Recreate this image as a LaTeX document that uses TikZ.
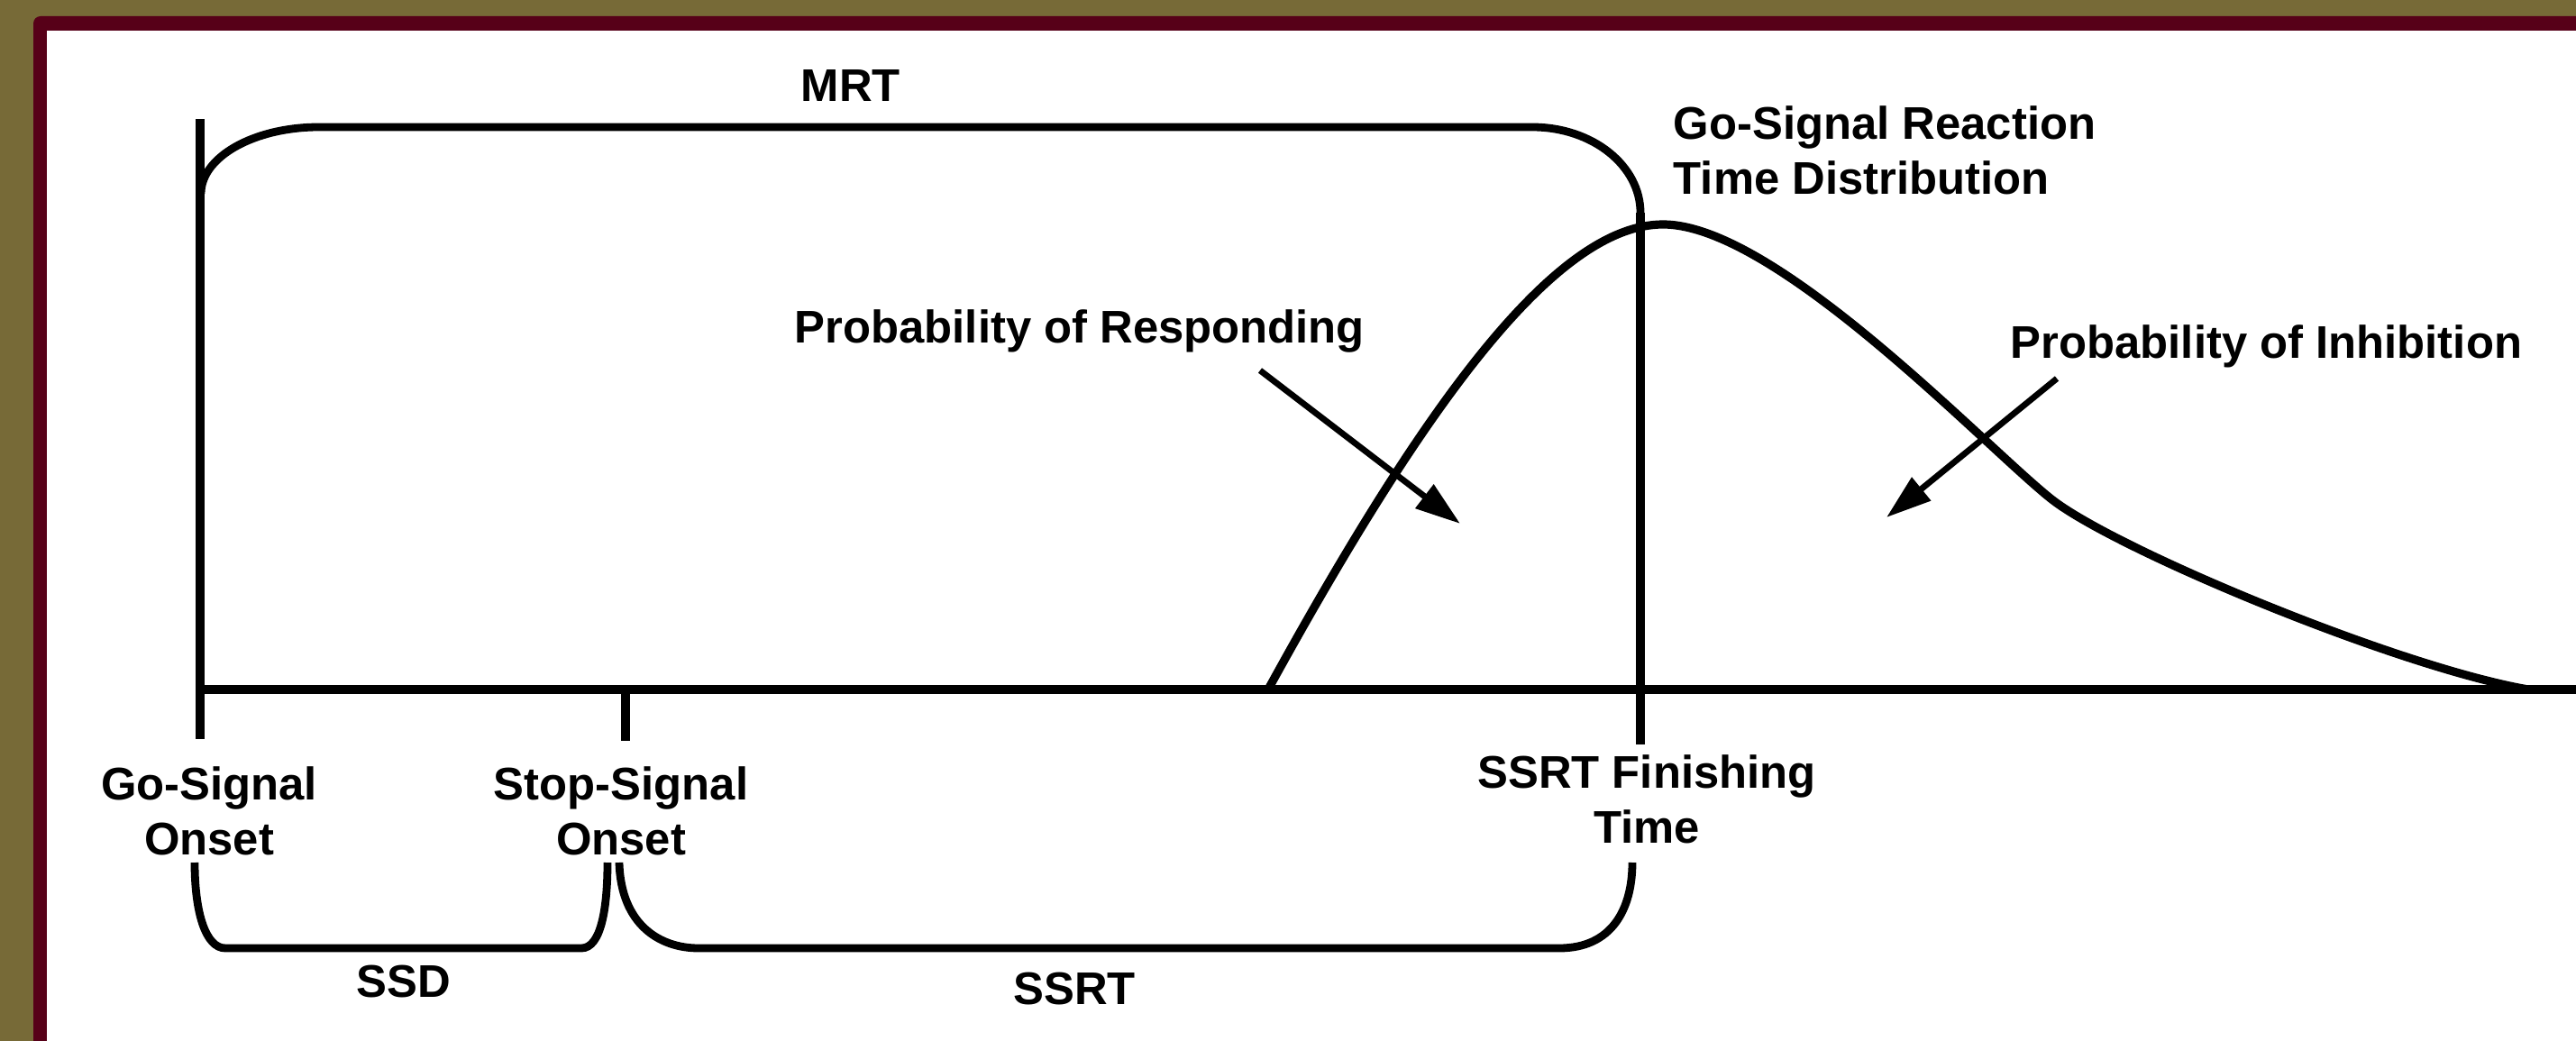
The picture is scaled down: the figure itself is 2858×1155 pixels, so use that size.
\documentclass[tikz,border=0pt]{standalone}
\usepackage{fontspec}
\setmainfont{Liberation Sans}
\usetikzlibrary{arrows.meta}
\definecolor{olivebg}{RGB}{119,106,55}
\definecolor{framered}{RGB}{87,0,24}
\begin{document}
\begin{tikzpicture}[x=0.25pt,y=-0.25pt,
  lbl/.style={font=\bfseries\fontsize{12.7}{15.3}\selectfont, inner sep=0pt, align=center, anchor=north},
  heavy/.style={line width=2.5pt},
  brace/.style={line width=2.2pt},
  curveline/.style={line width=2.3pt, line join=round},
  pointer/.style={line width=1.7pt, -{Triangle[length=12.5pt,width=8pt]}}]
\useasboundingbox (0,0) rectangle (2858,1155);
\clip (0,0) rectangle (2858,1155);
% frame
\fill[olivebg] (0,0) rectangle (2858,1155);
\fill[framered, rounded corners=2pt] (37,18) rectangle (2950,1250);
\fill[white] (52,34) rectangle (2950,1250);

% key points
\coordinate (goTop) at (222,132);
\coordinate (goBot) at (222,820);
\coordinate (axL) at (222,765);
\coordinate (axR) at (2870,765);
\coordinate (stopAx) at (694,765);
\coordinate (stopBot) at (694,822);
\coordinate (finTop) at (1820,236);
\coordinate (finBot) at (1820,826);
\coordinate (mrtL) at (223,215);
\coordinate (dStart) at (1408,763);
\coordinate (dPeak) at (1845,249);
\coordinate (dInfl) at (2275,553);
\coordinate (dEnd) at (2805,765);

% axis and ticks
\draw[heavy] (goTop) -- (goBot);
\draw[heavy] (axL) -- (axR);
\draw[heavy] (stopAx) -- (stopBot);
\draw[line width=2.3pt] (finTop) -- (finBot);

% MRT bracket
\draw[brace] (mrtL) .. controls +(0,-41) and +(-72,0) .. (354,141)
  -- (1700,141) .. controls +(67,0) and +(0,-52) .. (finTop);

% SSD bracket
\draw[brace] (216,957) .. controls +(0,55) and +(-22,0) .. (250,1052)
  -- (645,1052) .. controls +(22,0) and +(0,50) .. (674,957);
% SSRT bracket
\draw[brace] (687,957) .. controls +(2,70) and +(-42,0) .. (775,1052)
  -- (1730,1052) .. controls +(58,0) and +(0,52) .. (1811,957);

% go RT distribution
\draw[curveline] (dStart) .. controls (1573,463) and (1722,249) .. (dPeak)
  .. controls (1970,249) and (2200,493) .. (dInfl)
  .. controls (2345,609) and (2660,740) .. (dEnd);

% labels
\node[lbl] (mrt) at (944,77) {MRT};
\node[lbl, align=left, anchor=north west] (gdist) at (1856,117) {Go-Signal Reaction\\Time Distribution};
\node[lbl, anchor=north west] (presp) at (881,343) {Probability of Responding};
\node[lbl, anchor=north west] (pinh) at (2230,360) {Probability of Inhibition};
\node[lbl] (gon) at (232,850) {Go-Signal\\Onset};
\node[lbl] (son) at (689,850) {Stop-Signal\\Onset};
\node[lbl] (sfin) at (1827,837) {SSRT Finishing\\Time};
\node[lbl] (ssd) at (448,1070) {SSD};
\node[lbl] (ssrt) at (1192,1078) {SSRT};

% arrows
\coordinate (prA) at (1398,411);
\coordinate (prB) at (1620,581);
\coordinate (piA) at (2282,420);
\coordinate (piB) at (2093,574);
\draw[pointer] (prA) -- (prB);
\draw[pointer] (piA) -- (piB);
\end{tikzpicture}
\end{document}
